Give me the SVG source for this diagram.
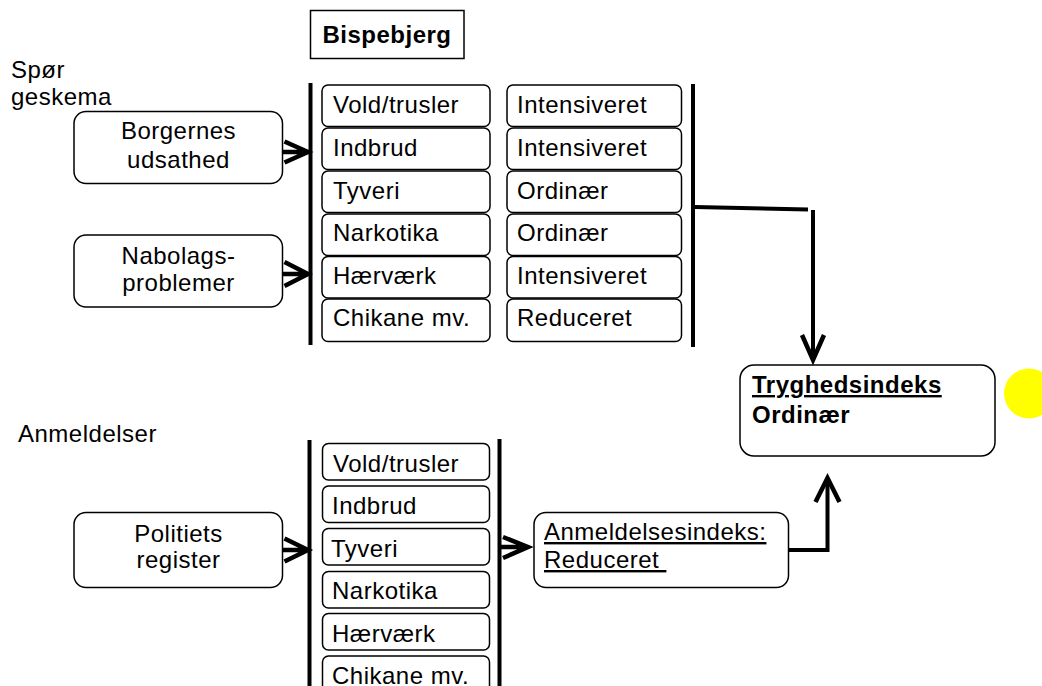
<svg xmlns="http://www.w3.org/2000/svg" width="1042" height="686" viewBox="0 0 1042 686">
<style>
text{font-family:"Liberation Sans",Arial,sans-serif;font-size:24px;letter-spacing:0.5px;fill:#000}
.b{font-weight:bold}
.c{text-anchor:middle}
.u{text-decoration:underline}
.cell{fill:#fff;stroke:#000;stroke-width:1.5}
.node{fill:#fff;stroke:#000;stroke-width:1.5}
.bar{stroke:#000;stroke-width:4;fill:none}
.arr{stroke:#000;stroke-width:4.5;fill:none;stroke-linejoin:miter;stroke-linecap:butt}
.ln{stroke:#000;stroke-width:4;fill:none}
</style>
<rect width="1042" height="686" fill="#fff"/>

<g id="title">
<rect x="310.5" y="10.5" width="153.5" height="48" fill="#fff" stroke="#000" stroke-width="1.5"/>
<text class="b c" x="387" y="43">Bispebjerg</text>
</g>

<g id="label-spor">
<text x="11" y="78">Spør</text>
<text x="11" y="105">geskema</text>
</g>
<g id="label-anmeldelser">
<text x="18" y="442">Anmeldelser</text>
</g>

<g id="borgernes">
<rect class="node" x="74" y="111.5" width="208.5" height="72" rx="12"/>
<text class="c" x="178.5" y="139">Borgernes</text>
<text class="c" x="178.5" y="168">udsathed</text>
</g>
<g id="nabolags">
<rect class="node" x="74" y="235" width="208.5" height="72" rx="12"/>
<text class="c" x="178.5" y="263.5">Nabolags-</text>
<text class="c" x="178.5" y="290.5">problemer</text>
</g>
<g id="politiets">
<rect class="node" x="74" y="512.5" width="208.5" height="75" rx="12"/>
<text class="c" x="178.5" y="541.5">Politiets</text>
<text class="c" x="178.5" y="568">register</text>
</g>

<g id="survey-categories">
<rect class="cell" x="322" y="85" width="168" height="41.5" rx="6"/><text x="333" y="113">Vold/trusler</text>
<rect class="cell" x="322" y="128" width="168" height="41.5" rx="6"/><text x="333" y="156">Indbrud</text>
<rect class="cell" x="322" y="171" width="168" height="41.5" rx="6"/><text x="333" y="199">Tyveri</text>
<rect class="cell" x="322" y="214" width="168" height="41.5" rx="6"/><text x="333" y="241">Narkotika</text>
<rect class="cell" x="322" y="256.5" width="168" height="41.5" rx="6"/><text x="333" y="284">Hærværk</text>
<rect class="cell" x="322" y="299" width="168" height="42.5" rx="6"/><text x="333" y="326">Chikane mv.</text>
</g>

<g id="survey-levels">
<rect class="cell" x="507" y="85" width="174.5" height="41.5" rx="6"/><text x="517" y="113">Intensiveret</text>
<rect class="cell" x="507" y="128" width="174.5" height="41.5" rx="6"/><text x="517" y="156">Intensiveret</text>
<rect class="cell" x="507" y="171" width="174.5" height="41.5" rx="6"/><text x="517" y="199">Ordinær</text>
<rect class="cell" x="507" y="214" width="174.5" height="41.5" rx="6"/><text x="517" y="241">Ordinær</text>
<rect class="cell" x="507" y="256.5" width="174.5" height="41.5" rx="6"/><text x="517" y="284">Intensiveret</text>
<rect class="cell" x="507" y="299" width="174.5" height="42.5" rx="6"/><text x="517" y="326">Reduceret</text>
</g>

<g id="report-categories">
<rect class="cell" x="322.5" y="443.5" width="167" height="36.5" rx="6"/><text x="333" y="471.5">Vold/trusler</text>
<rect class="cell" x="322.5" y="486" width="167" height="36.5" rx="6"/><text x="332" y="513.5">Indbrud</text>
<rect class="cell" x="322.5" y="528.5" width="167" height="36.5" rx="6"/><text x="331" y="556.5">Tyveri</text>
<rect class="cell" x="322.5" y="571.5" width="167" height="36.5" rx="6"/><text x="332" y="598.5">Narkotika</text>
<rect class="cell" x="322.5" y="613.5" width="167" height="36.5" rx="6"/><text x="332" y="641.5">Hærværk</text>
<rect class="cell" x="322.5" y="656" width="167" height="40" rx="6"/><text x="332" y="684">Chikane mv.</text>
</g>

<g id="anmeldelsesindeks">
<rect class="node" x="534" y="512.5" width="254.5" height="75" rx="12"/>
<text class="u" x="544" y="540">Anmeldelsesindeks:</text>
<text class="u" x="544" y="568" xml:space="preserve">Reduceret </text>
</g>

<g id="tryghedsindeks">
<rect class="node" x="740" y="365" width="255" height="91" rx="14"/>
<text class="b u" x="752" y="393">Tryghedsindeks</text>
<text class="b" x="752" y="423">Ordinær</text>
</g>

<g id="marker-dot">
<ellipse cx="1029" cy="393.5" rx="25" ry="25" fill="#ffff00"/>
</g>

<g id="connectors">
<line class="bar" x1="310.5" y1="83" x2="310.5" y2="345"/>
<line class="bar" x1="693" y1="84" x2="693" y2="347"/>
<line class="bar" x1="309.5" y1="440" x2="309.5" y2="686"/>
<line class="bar" x1="499.5" y1="439" x2="499.5" y2="686"/>

<path class="arr" d="M283 152H307M284.5 141.5L308 152L284.5 162.5"/>
<path class="arr" d="M283 274H307M284.5 262L308 274L284.5 286"/>
<path class="arr" d="M283 550H307M284.5 538.5L308 550L284.5 561.5"/>
<path class="arr" d="M501 547H527M503 537L528 547L503 558"/>

<path class="ln" d="M695 207L808 209.5"/>
<path class="ln" d="M813 210V358"/>
<path class="arr" d="M802 335L813 360L824 335"/>

<path class="ln" d="M788.5 550H827.5V480"/>
<path class="arr" d="M815.5 502L827.5 478L839.5 502"/>
</g>
</svg>
